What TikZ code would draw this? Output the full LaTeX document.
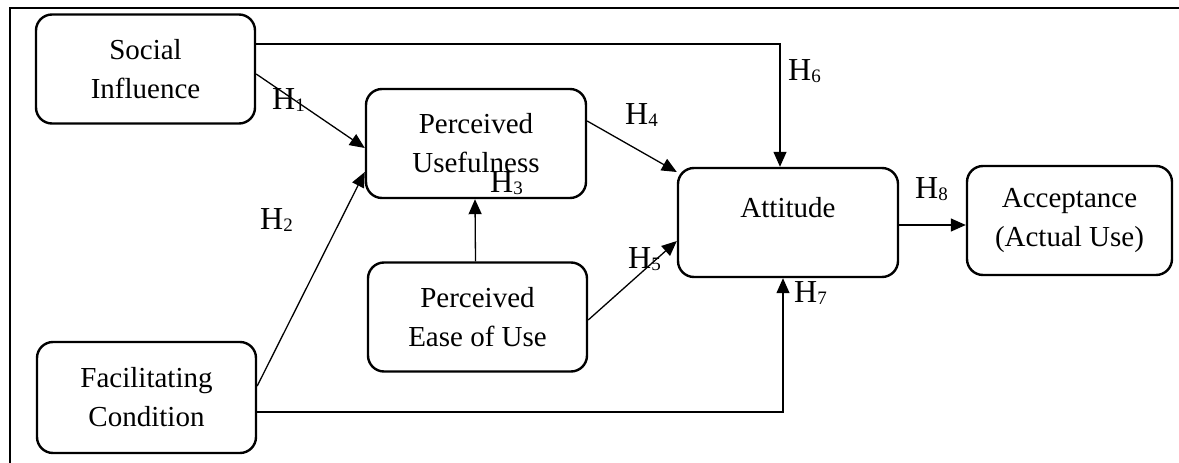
\documentclass[tikz,border=0pt]{standalone}
\usepackage{fontspec}
\setmainfont{Liberation Serif}
\usetikzlibrary{arrows.meta}
\newcommand{\hypo}[1]{H\raisebox{-2pt}{\fontsize{19}{19}\selectfont #1}}
\begin{document}
\begin{tikzpicture}[x=1pt,y=-1pt,
  box/.style={draw, line width=2.4pt, rounded corners=16pt, minimum height=109pt,
    inner sep=0pt, align=center, font=\fontsize{29}{39}\selectfont},
  plain/.style={inner sep=0pt, font=\fontsize{29}{39}\selectfont},
  hyplabel/.style={anchor=base west, inner sep=0pt, font=\fontsize{32}{32}\selectfont},
  conn/.style={line width=1.3pt, -{Triangle[length=15pt,width=13pt]}}]
\useasboundingbox (0,0) rectangle (1179,463);
% frame
\draw[line width=2.6pt] (10,463) -- (10,8) -- (1179,8);
% boxes
\node[box, minimum width=219pt] (si) at (145.5,69) {Social\\Influence};
\node[box, minimum width=220pt] (pu) at (476,143.5) {Perceived\\Usefulness};
\node[box, minimum width=219pt] (peou) at (477.5,317) {Perceived\\Ease of Use};
\node[box, minimum width=219pt, minimum height=111pt] (fc) at (146.5,397.5) {Facilitating\\Condition};
\node[box, minimum width=220pt] (att) at (788,222.5) {};
\node[plain] (attlbl) at (788,208) {Attitude};
\node[box, minimum width=205pt] (acc) at (1069.5,220.5) {Acceptance\\(Actual Use)};
% connectors
\draw[conn] ([yshift=25pt]si.east) -| ([xshift=-8pt]att.north);
\draw[conn] ([yshift=-5pt]si.east) -- ([yshift=-4.5pt]pu.west);
\draw[conn] ([yshift=11.5pt]fc.east) -- ([yshift=-28.5pt]pu.west);
\draw[conn] ([xshift=-2pt]peou.north) -- ([xshift=-1pt]pu.south);
\draw[conn] ([yshift=22.5pt]pu.east) -- ([yshift=50.5pt]att.west);
\draw[conn] ([yshift=-3pt]peou.east) -- ([yshift=-18.5pt]att.west);
\draw[conn] ([yshift=-14.5pt]fc.east) -| ([xshift=-5pt]att.south);
\draw[conn] ([yshift=-2.5pt]att.east) -- ([yshift=-4.5pt]acc.west);
% labels
\node[hyplabel] (h1) at (272,109) {\hypo{1}};
\node[hyplabel] (h2) at (260,229) {\hypo{2}};
\node[hyplabel] (h3) at (490,192) {\hypo{3}};
\node[hyplabel] (h4) at (625,124) {\hypo{4}};
\node[hyplabel] (h5) at (628,268) {\hypo{5}};
\node[hyplabel] (h6) at (788,80) {\hypo{6}};
\node[hyplabel] (h7) at (794,302) {\hypo{7}};
\node[hyplabel] (h8) at (915,198) {\hypo{8}};
\end{tikzpicture}
\end{document}
